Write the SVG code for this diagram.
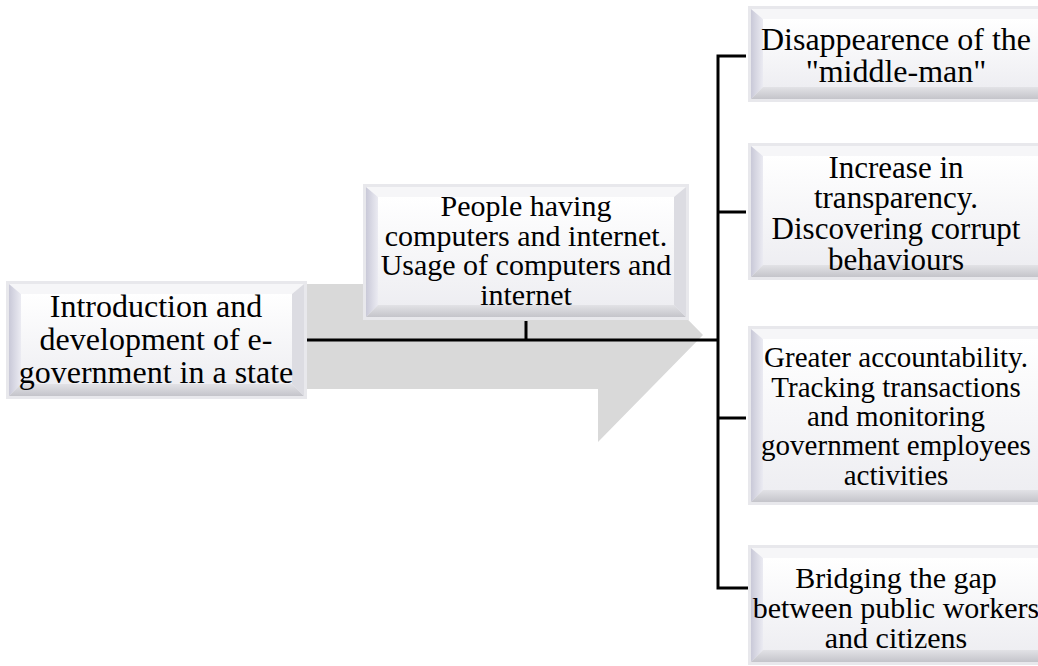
<svg xmlns="http://www.w3.org/2000/svg" width="1038" height="666" viewBox="0 0 1038 666">
<defs>
<linearGradient id="face" x1="0" y1="0" x2="0" y2="1">
<stop offset="0" stop-color="#ffffff"/>
<stop offset="1" stop-color="#eeeef2"/>
</linearGradient>
<linearGradient id="lbev" x1="0" y1="0" x2="1" y2="0">
<stop offset="0" stop-color="#c9c9d8"/>
<stop offset="1" stop-color="#ebebf2"/>
</linearGradient>
<linearGradient id="bbev" x1="0" y1="0" x2="0" y2="1">
<stop offset="0" stop-color="#e2e2e6"/>
<stop offset="1" stop-color="#c4c4ca"/>
</linearGradient>
<style>
.outer{fill:#e8e8ec;}
.face{fill:url(#face);}
.lb{fill:url(#lbev);}
.bb{fill:url(#bbev);}
.tb{fill:#f6f6f8;}
.rb{fill:#dcdce2;}
text{font-family:'Liberation Serif','DejaVu Serif','Noto Serif','Times New Roman',serif;fill:#000;text-anchor:middle;}
.ln{stroke:#000;stroke-width:3;fill:none;}
</style>
</defs>
<rect width="1038" height="666" fill="#ffffff"/>
<polygon points="20,284 598,284 598,228 703,335 598,442 598,389 20,389" fill="#d9d9d9"/>
<g id="connectors">
<line class="ln" x1="305" y1="340" x2="718" y2="340"/>
<line class="ln" x1="526" y1="321" x2="526" y2="340"/>
<path class="ln" d="M746,56 H718 V588 H748"/>
<line class="ln" x1="718" y1="212" x2="746" y2="212"/>
<line class="ln" x1="718" y1="418" x2="746" y2="418"/>
</g>
<g id="n-intro" font-family="Liberation Serif, serif">
<rect class="outer" x="6" y="281" width="301" height="118"/>
<rect class="face" x="9" y="284" width="295" height="112"/>
<polygon class="tb" points="9,284 304,284 292,294 21,294"/>
<polygon class="lb" points="9,284 21,294 21,384 9,396"/>
<polygon class="bb" points="9,396 21,384 292,384 304,396"/>
<polygon class="rb" points="304,284 304,396 292,384 292,294"/>
<rect class="face" x="21" y="294" width="271" height="90"/>
<text font-size="32" x="156" y="317">Introduction and</text>
<text font-size="32" x="156" y="350">development of e-</text>
<text font-size="32" x="156" y="383">government in a state</text>
</g>
<g id="n-people">
<rect class="outer" x="363" y="184" width="326" height="136"/>
<rect class="face" x="366" y="187" width="320" height="130"/>
<polygon class="tb" points="366,187 686,187 674,197 378,197"/>
<polygon class="lb" points="366,187 378,197 378,305 366,317"/>
<polygon class="bb" points="366,317 378,305 674,305 686,317"/>
<polygon class="rb" points="686,187 686,317 674,305 674,197"/>
<rect class="face" x="378" y="197" width="296" height="108"/>
<text font-size="30" x="526" y="216">People having</text>
<text font-size="30" x="526" y="246">computers and internet.</text>
<text font-size="30" x="526" y="275">Usage of computers and</text>
<text font-size="30" x="526" y="305">internet</text>
</g>
<g id="n-middleman">
<rect class="outer" x="748" y="6" width="300" height="96"/>
<rect class="face" x="751" y="9" width="300" height="90"/>
<polygon class="tb" points="751,9 1050,9 1038,19 763,19"/>
<polygon class="lb" points="751,9 763,19 763,87 751,99"/>
<polygon class="bb" points="751,99 763,87 1038,87 1050,99"/>
<rect class="face" x="763" y="19" width="290" height="68"/>
<text font-size="32" x="896" y="50">Disappearence of the</text>
<text font-size="32" x="896" y="82">"middle-man"</text>
</g>
<g id="n-transparency">
<rect class="outer" x="748" y="143" width="300" height="137"/>
<rect class="face" x="751" y="146" width="300" height="131"/>
<polygon class="tb" points="751,146 1050,146 1038,156 763,156"/>
<polygon class="lb" points="751,146 763,156 763,265 751,277"/>
<polygon class="bb" points="751,277 763,265 1038,265 1050,277"/>
<rect class="face" x="763" y="156" width="290" height="109"/>
<text font-size="31" x="896" y="178">Increase in</text>
<text font-size="31" x="896" y="208">transparency.</text>
<text font-size="31" x="896" y="239">Discovering corrupt</text>
<text font-size="31" x="896" y="270">behaviours</text>
</g>
<g id="n-accountability">
<rect class="outer" x="748" y="326" width="300" height="179"/>
<rect class="face" x="751" y="329" width="300" height="173"/>
<polygon class="tb" points="751,329 1050,329 1038,339 763,339"/>
<polygon class="lb" points="751,329 763,339 763,490 751,502"/>
<polygon class="bb" points="751,502 763,490 1038,490 1050,502"/>
<rect class="face" x="763" y="339" width="290" height="151"/>
<text font-size="29" x="896" y="367">Greater accountability.</text>
<text font-size="29" x="896" y="397">Tracking transactions</text>
<text font-size="29" x="896" y="426">and monitoring</text>
<text font-size="29" x="896" y="455">government employees</text>
<text font-size="29" x="896" y="485">activities</text>
</g>
<g id="n-bridging">
<rect class="outer" x="748" y="545" width="300" height="120"/>
<rect class="face" x="751" y="548" width="300" height="114"/>
<polygon class="tb" points="751,548 1050,548 1038,558 763,558"/>
<polygon class="lb" points="751,548 763,558 763,650 751,662"/>
<polygon class="bb" points="751,662 763,650 1038,650 1050,662"/>
<rect class="face" x="763" y="558" width="290" height="92"/>
<text font-size="30" x="896" y="588">Bridging the gap</text>
<text font-size="30" x="896" y="618">between public workers</text>
<text font-size="30" x="896" y="648">and citizens</text>
</g>
</svg>
